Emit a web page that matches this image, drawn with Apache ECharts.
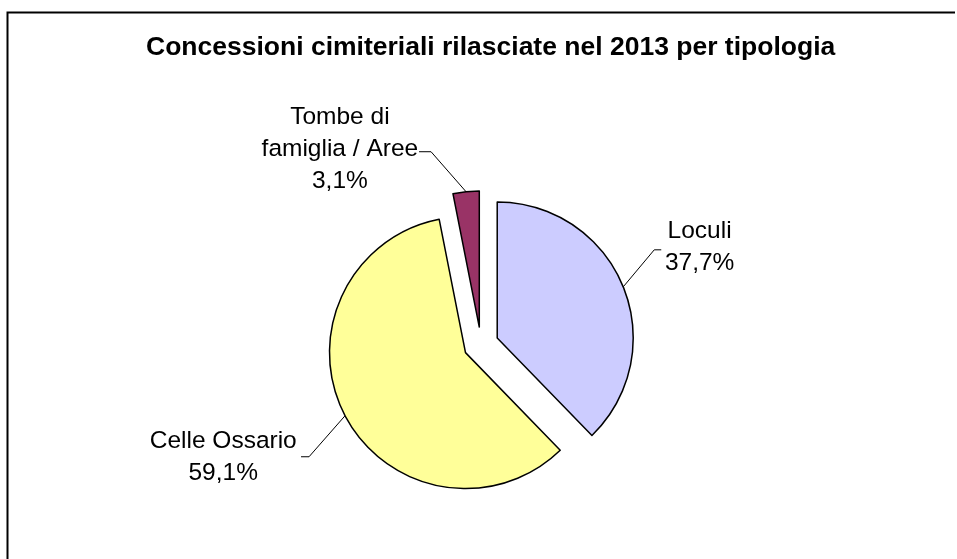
<!DOCTYPE html>
<html>
<head>
<meta charset="utf-8">
<script src="https://cdn.jsdelivr.net/npm/echarts@6/dist/echarts.min.js"></script>
<style>
  html, body { margin: 0; padding: 0; background: #fff; }
  #chart { width: 957px; height: 559px; }
</style>
</head>
<body>
<div id="chart"></div>
<script>
  // dati del grafico
  var categories = ['Loculi', 'Celle Ossario', 'Tombe di famiglia / Aree'];
  var labelNames = ['Loculi', 'Celle Ossario', 'Tombe di\nfamiglia / Aree'];
  var values = [37.7, 59.1, 3.1];
  var colors = ['#CCCCFF', '#FFFF99', '#993366'];

  // distanza delle etichette: [length, length2] e padding [top, right, bottom, left]
  var labelDist = [[104, 0], [89, 38], [43, 117]];
  var labelPadding = [[0, 50, 0, 0], [0, 0, 0, 0], [0, 0, 0, 0]];
  // linee guida: gomito e fine, relativi al punto sul bordo della fetta
  var lineOffsets = [
    [[31, -37], [38, -37]],
    [[-36, 41], [-44, 41]],
    [[-35, -40], [-47, -40]]
  ];

  var chart = echarts.init(document.getElementById('chart'));

  var pieData = categories.map(function (name, i) {
    return {
      name: name,
      value: values[i],
      selected: true,
      itemStyle: { color: colors[i] },
      select: { itemStyle: { color: colors[i], borderColor: '#000', borderWidth: 1.5 } },
      label: { padding: labelPadding[i] },
      labelLine: { length: labelDist[i][0], length2: labelDist[i][1] }
    };
  });

  var option = {
    animation: false,
    backgroundColor: '#fff',
    title: {
      text: 'Concessioni cimiteriali rilasciate nel 2013 per tipologia',
      left: 141,
      top: 29,
      textStyle: {
        fontFamily: 'Liberation Sans, Arial, sans-serif',
        fontSize: 26.5,
        fontWeight: 'bold',
        color: '#000'
      }
    },
    graphic: [{
      type: 'polyline',
      shape: { points: [[7.5, 620], [7.5, 12.5], [955, 12.5]] },
      style: { fill: 'none', stroke: '#000', lineWidth: 2 },
      z: -1
    }],
    series: [{
      type: 'pie',
      center: [481, 344.5],
      radius: 136,
      startAngle: 90,
      clockwise: true,
      selectedMode: 'multiple',
      selectedOffset: 17.5,
      avoidLabelOverlap: false,
      data: pieData,
      itemStyle: { borderColor: '#000', borderWidth: 1.5 },
      emphasis: { disabled: true },
      label: {
        show: true,
        position: 'outside',
        color: '#000',
        fontFamily: 'Liberation Sans, Arial, sans-serif',
        fontSize: 24.5,
        lineHeight: 32,
        formatter: function (p) {
          return labelNames[p.dataIndex] + '\n' + values[p.dataIndex].toFixed(1).replace('.', ',') + '%';
        }
      },
      labelLine: {
        show: true,
        lineStyle: { color: '#000', width: 1 }
      },
      labelLayout: function (p) {
        var res = { align: 'center', verticalAlign: 'middle' };
        var pts = p.labelLinePoints;
        if (pts && pts.length) {
          var s = pts[0];
          var o = lineOffsets[p.dataIndex];
          res.labelLinePoints = [
            [s[0], s[1]],
            [s[0] + o[0][0], s[1] + o[0][1]],
            [s[0] + o[1][0], s[1] + o[1][1]]
          ];
        }
        return res;
      }
    }]
  };

  chart.setOption(option);
</script>
</body>
</html>
